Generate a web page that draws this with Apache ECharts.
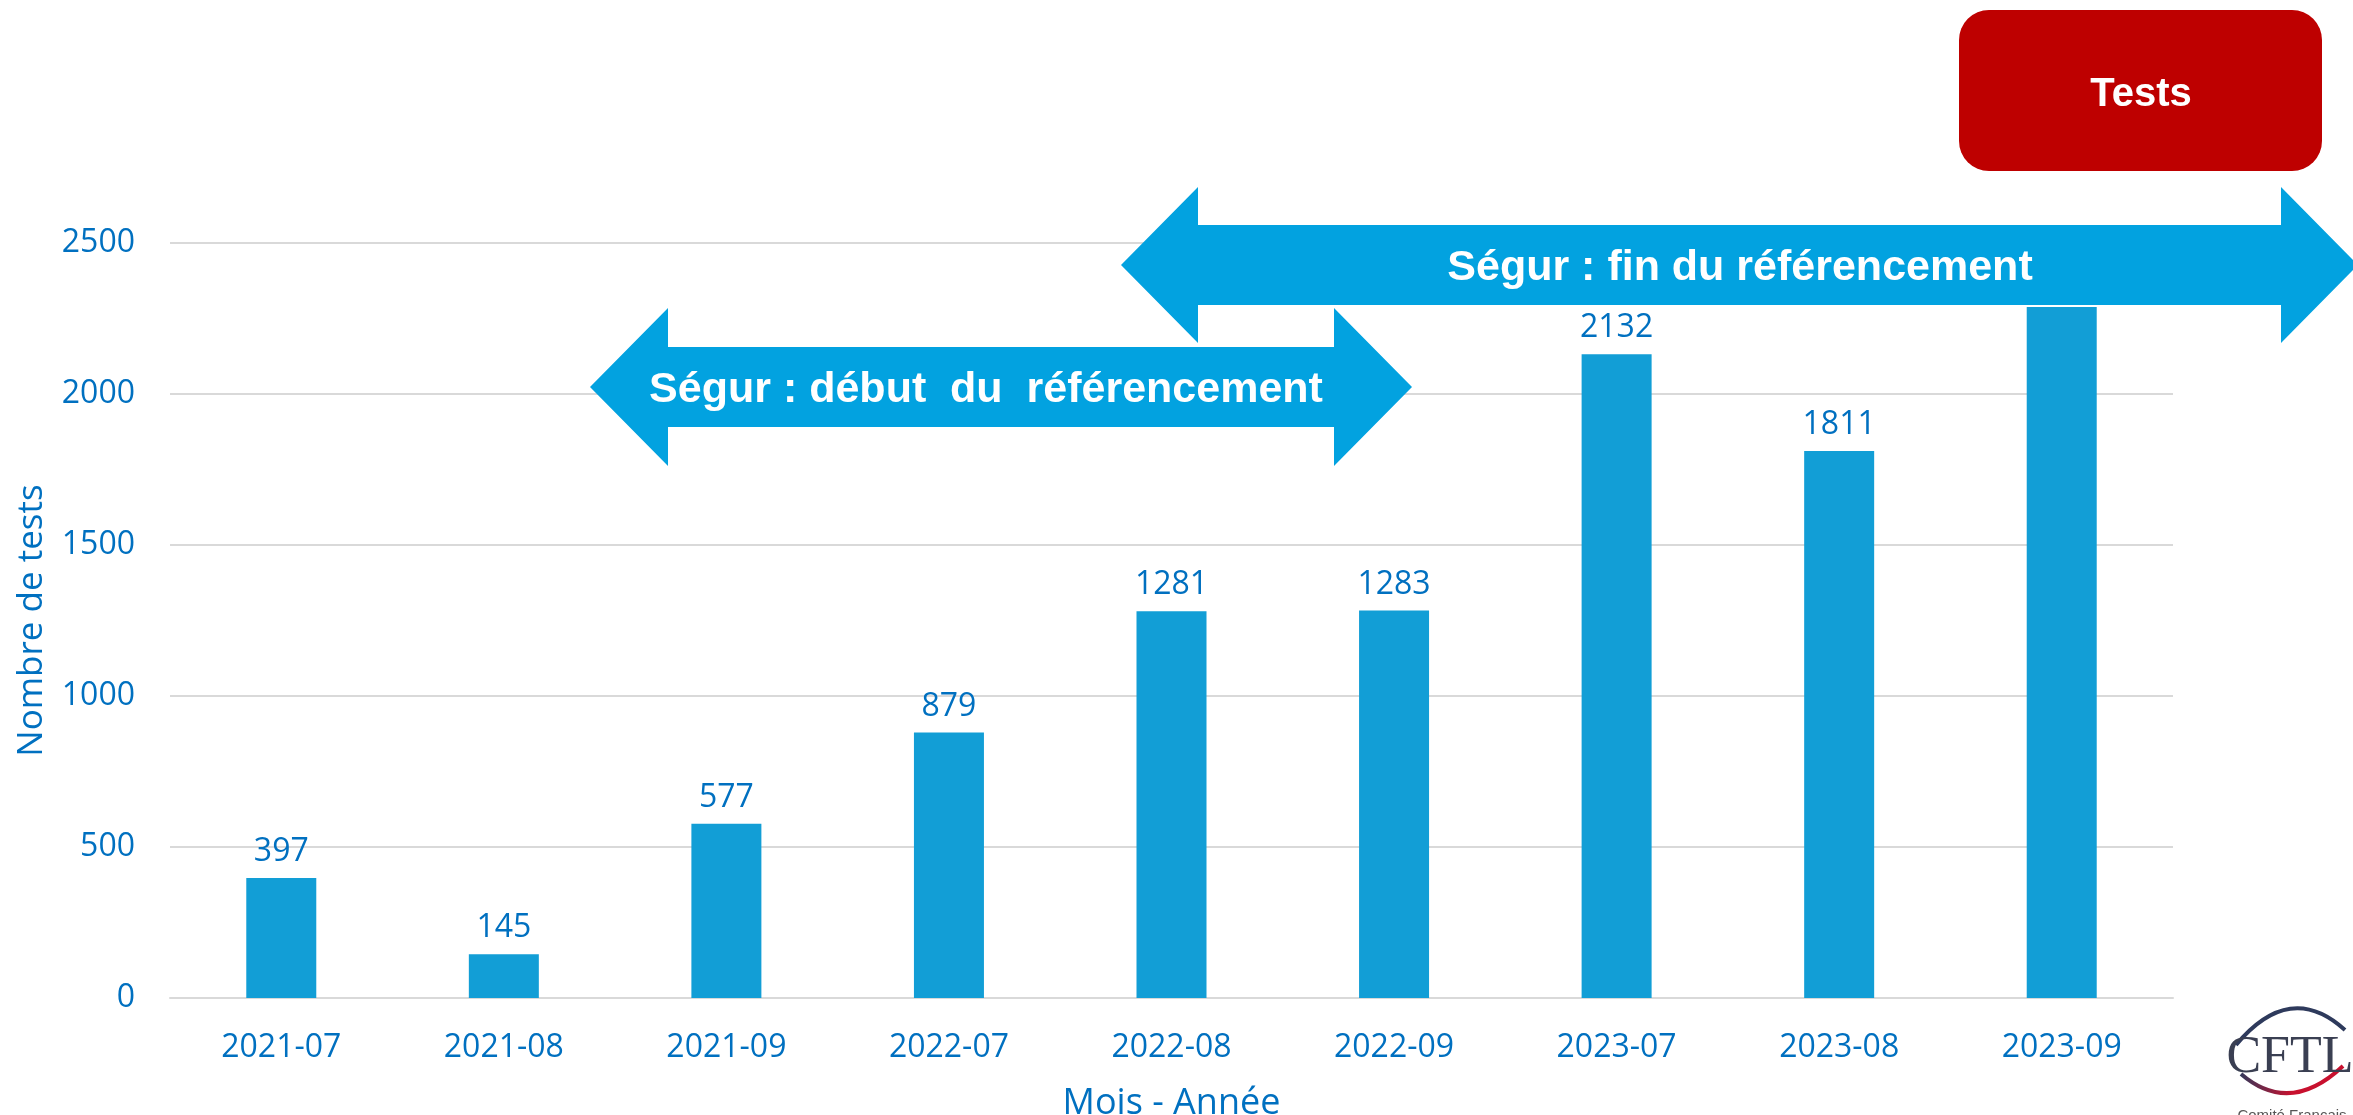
<!DOCTYPE html>
<html>
<head>
<meta charset="utf-8">
<script src="https://cdn.jsdelivr.net/npm/echarts@6.0.0/dist/echarts.min.js"></script>
<style>
  html, body { margin: 0; padding: 0; background: #fff; }
  #tests-chart { width: 2353px; height: 1115px; }
</style>
</head>
<body>
<div id="tests-chart"></div>
<script>
// mois (axe x) et nombre de tests
const months = ['2021-07', '2021-08', '2021-09', '2022-07', '2022-08', '2022-09', '2023-07', '2023-08', '2023-09'];
const testCounts = [397, 145, 577, 879, 1281, 1283, 2132, 1811, 2288];
const yTicks = [0, 500, 1000, 1500, 2000, 2500];

const blueText = '#0070C0';
const arrowBlue = '#02A2E0';
const axisFont = 'Open Sans';

// flèche double horizontale (bandeaux Ségur)
function doubleArrow(x1, x2, cy, head, shaftHalf, headHalf) {
  return [
    [x1, cy], [x1 + head, cy - headHalf], [x1 + head, cy - shaftHalf],
    [x2 - head, cy - shaftHalf], [x2 - head, cy - headHalf], [x2, cy],
    [x2 - head, cy + headHalf], [x2 - head, cy + shaftHalf],
    [x1 + head, cy + shaftHalf], [x1 + head, cy + headHalf],
  ];
}

const myChart = echarts.init(document.getElementById('tests-chart'));

myChart.setOption({
  animation: false,
  grid: {
    left: 170, right: 180, top: 243, bottom: 117,
    containLabel: false,
    outerBoundsMode: 'none',
  },
  xAxis: {
    type: 'category',
    data: months,
    name: 'Mois - Année',
    nameLocation: 'middle',
    nameGap: 88,
    nameTextStyle: { color: blueText, fontFamily: axisFont, fontSize: 36 },
    axisLine: { show: true, lineStyle: { color: '#D9D9D9', width: 2 } },
    axisTick: { show: false },
    axisLabel: { color: blueText, fontFamily: axisFont, fontSize: 32, margin: 34 },
  },
  yAxis: {
    type: 'value',
    min: yTicks[0],
    max: yTicks[yTicks.length - 1],
    interval: yTicks[1] - yTicks[0],
    name: 'Nombre de tests',
    nameLocation: 'middle',
    nameGap: 120,
    nameTextStyle: { color: blueText, fontFamily: axisFont, fontSize: 35 },
    axisLine: { show: false },
    axisTick: { show: false },
    axisLabel: {
      color: blueText,
      fontFamily: axisFont,
      fontSize: 32,
      margin: 35,
      formatter: (v) => String(v),
    },
    splitLine: { show: true, lineStyle: { color: '#D9D9D9', width: 2 } },
  },
  series: [
    {
      name: 'Tests',
      type: 'bar',
      data: testCounts,
      barWidth: 70,
      itemStyle: { color: '#129ED6' },
      label: {
        show: true,
        position: 'top',
        distance: 10,
        color: blueText,
        fontFamily: axisFont,
        fontSize: 32,
      },
      z: 2,
    },
  ],
  graphic: [
    // Ségur : début
    {
      type: 'polygon',
      z: 100,
      shape: { points: doubleArrow(590, 1412, 387, 78, 40, 79) },
      style: { fill: arrowBlue },
    },
    {
      type: 'text',
      z: 101,
      style: {
        text: 'Ségur : début  du  référencement',
        x: 986,
        y: 390,
        align: 'center',
        verticalAlign: 'middle',
        fill: '#fff',
        font: 'bold 43px "Liberation Sans", Arial, sans-serif',
      },
    },
    // Ségur : fin
    {
      type: 'polygon',
      z: 100,
      shape: { points: doubleArrow(1121, 2358, 265, 77, 40, 78) },
      style: { fill: arrowBlue },
    },
    {
      type: 'text',
      z: 101,
      style: {
        text: 'Ségur : fin du référencement',
        x: 1740,
        y: 268,
        align: 'center',
        verticalAlign: 'middle',
        fill: '#fff',
        font: 'bold 43px "Liberation Sans", Arial, sans-serif',
      },
    },
    // cartouche "Tests"
    {
      type: 'rect',
      z: 100,
      shape: { x: 1959, y: 10, width: 363, height: 161, r: 30 },
      style: { fill: '#BE0000' },
    },
    {
      type: 'text',
      z: 101,
      style: {
        text: 'Tests',
        x: 2141,
        y: 95,
        align: 'center',
        verticalAlign: 'middle',
        fill: '#fff',
        font: 'bold 40px "Liberation Sans", Arial, sans-serif',
      },
    },
    // logo CFTL
    {
      type: 'bezierCurve',
      z: 100,
      shape: { x1: 2236, y1: 1045, x2: 2345, y2: 1030, cpx1: 2290, cpy1: 980 },
      style: { stroke: '#2E3A5C', lineWidth: 4, fill: null },
    },
    {
      type: 'bezierCurve',
      z: 100,
      shape: { x1: 2241, y1: 1074, x2: 2343, y2: 1066, cpx1: 2290, cpy1: 1116 },
      style: {
        stroke: new echarts.graphic.LinearGradient(0, 0, 1, 0, [
          { offset: 0, color: '#2E3A5C' },
          { offset: 0.5, color: '#C8102E' },
          { offset: 1, color: '#C8102E' },
        ]),
        lineWidth: 4,
        fill: null,
      },
    },
    {
      type: 'text',
      z: 101,
      style: {
        text: 'CFTL',
        x: 2290,
        y: 1058,
        align: 'center',
        verticalAlign: 'middle',
        fill: '#3A3F52',
        font: '52px "Liberation Serif", "Times New Roman", serif',
      },
    },
    {
      type: 'text',
      z: 101,
      style: {
        text: 'Comité Français',
        x: 2292,
        y: 1116,
        align: 'center',
        verticalAlign: 'middle',
        fill: '#555',
        font: '15px "Liberation Sans", Arial, sans-serif',
      },
    },
  ],
});
</script>
</body>
</html>
